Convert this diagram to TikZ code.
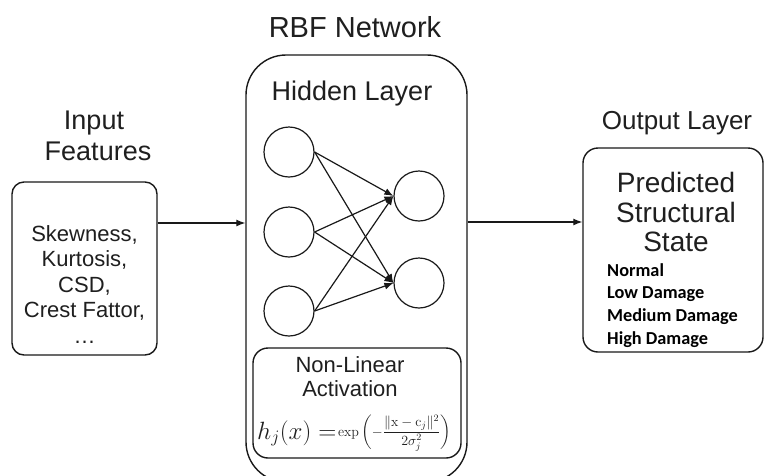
\documentclass[tikz,border=0pt]{standalone}
\usepackage{fix-cm}
\usepackage{amsmath}
\usepackage[no-math]{fontspec}
\setmainfont{Liberation Sans}
\newfontfamily\listfont{Carlito}
\usetikzlibrary{arrows.meta}

\begin{document}
\begin{tikzpicture}[x=1pt,y=-1pt,
  box/.style={draw=black!90, line width=1.4pt, inner sep=0pt},
  neuron/.style={draw=black!90, circle, line width=1.2pt, minimum size=50pt, inner sep=0pt},
  link/.style={draw=black!90, line width=1.2pt, -{Latex[length=9pt,width=7pt]}},
  txt/.style={inner sep=0pt, align=center, text=black!88},
  sz/.style={font=\fontsize{#1}{#1}\selectfont},
  state/.style={inner sep=0pt, anchor=base west, text=black,
    font=\listfont\bfseries\fontsize{18.3}{19}\selectfont},
]
\useasboundingbox (0,0) rectangle (765,475);
\clip (0,0) rectangle (765,475);
\fill[white] (0,0) rectangle (765,475);

% containers
\node[box, rounded corners=12pt, minimum width=145pt, minimum height=173pt] (inbox) at (84.5,268.5) {};
\node[box, rounded corners=40pt, minimum width=221pt, minimum height=427pt] (net) at (356.5,268.5) {};
\node[box, rounded corners=15pt, minimum width=180pt, minimum height=204pt] (outbox) at (673,250) {};
\node[box, rounded corners=15pt, minimum width=208pt, minimum height=110pt] (act) at (357,403) {};

% headings
\node[txt, sz=29, anchor=base] (title) at (355,37) {RBF Network};
\node[txt, sz=27, anchor=base] (hidden) at (352,100) {Hidden Layer};
\node[txt, sz=27, anchor=base] (inhead1) at (94,129) {Input};
\node[txt, sz=27, anchor=base] (inhead2) at (98,160) {Features};
\node[txt, sz=26, anchor=base] (outhead) at (677,129) {Output Layer};

% input features
\node[txt, sz=22, anchor=base] (f1) at (84.5,241) {Skewness,};
\node[txt, sz=22, anchor=base] (f2) at (84.5,266.5) {Kurtosis,};
\node[txt, sz=22, anchor=base] (f3) at (84.5,292) {CSD,};
\node[txt, sz=22, anchor=base] (f4) at (84.5,317.5) {Crest Fattor,};
\node[txt, sz=22, anchor=base] (f5) at (84.5,343) {…};

% output state
\node[txt, sz=28, anchor=base] (p1) at (676,192) {Predicted};
\node[txt, sz=28, anchor=base] (p2) at (676,222) {Structural};
\node[txt, sz=28, anchor=base] (p3) at (676,251) {State};
\node[state] (c1) at (607,276) {Normal};
\node[state] (c2) at (607,298.5) {Low Damage};
\node[state] (c3) at (607,321) {Medium Damage};
\node[state] (c4) at (607,344) {High Damage};

% activation
\node[txt, sz=22, anchor=base] (a1) at (350,372) {Non-Linear};
\node[txt, sz=22, anchor=base] (a2) at (350,396) {Activation};
\node[txt, anchor=base west] (formula) at (257,439)
  {{\fontsize{25}{28}\selectfont$h_j(x) =$}\,\raisebox{3pt}{\fontsize{14}{17}\selectfont$\exp\left(-\dfrac{\|\mathrm{x}-\mathrm{c}_j\|^2}{2\sigma_j^2}\right)$}};

% neurons
\node[neuron] (h1) at (289,152) {};
\node[neuron] (h2) at (289,232) {};
\node[neuron] (h3) at (289,311) {};
\node[neuron] (o1) at (419,196) {};
\node[neuron] (o2) at (419,283) {};

\foreach \s in {h1,h2,h3}
  \foreach \t in {o1,o2}
    \draw[link] (\s.east) -- (\t.west);

% flow arrows
\coordinate (inrow) at (0,223);
\coordinate (outrow) at (0,222);
\draw[link] (inbox.east |- inrow) -- (net.west |- inrow);
\draw[link] (net.east |- outrow) -- (outbox.west |- outrow);
\end{tikzpicture}
\end{document}
